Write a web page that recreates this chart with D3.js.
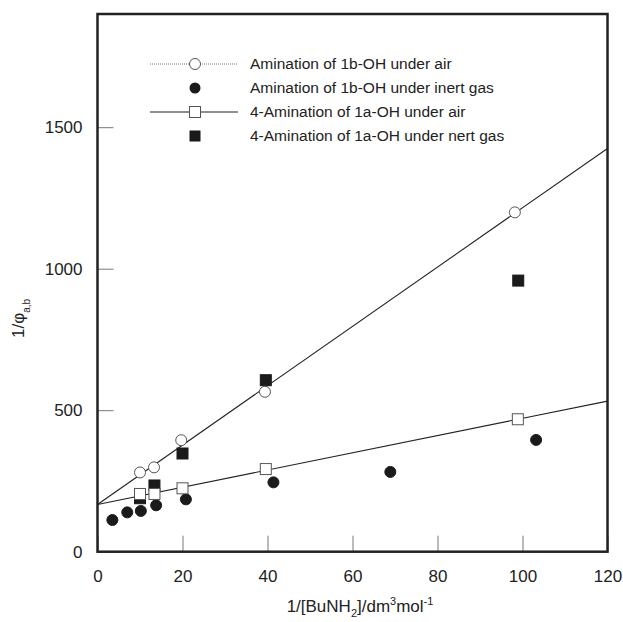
<!DOCTYPE html>
<html>
<head>
<meta charset="utf-8">
<script src="https://cdn.jsdelivr.net/npm/d3@7"></script>
<style>
  body { margin: 0; background: #fff; }
  text { font-family: Arial, "Liberation Sans", sans-serif; fill: #222; }
</style>
</head>
<body>
<div id="chart"></div>
<script>
// data
const xAir1b   = [10.0, 13.3, 19.7, 39.4, 98.2];
const yAir1b   = [280, 298, 394, 565, 1199];
const xInert1b = [3.5, 7.0, 10.2, 13.8, 20.8, 41.4, 68.9, 103.2];
const yInert1b = [112, 139, 144, 164, 185, 245, 282, 395];
const xAir1a   = [10.0, 13.4, 20.0, 39.6, 98.9];
const yAir1a   = [204, 204, 224, 292, 468];
const xInert1a = [10.0, 13.4, 20.0, 39.6, 99.0];
const yInert1a = [189, 234, 347, 606, 958];
// fitted lines (end points)
const fitAir1b = [[0, 167], [120, 1425]];
const fitAir1a = [[0, 167], [120, 532]];

const xTicks = [0, 20, 40, 60, 80, 100, 120];
const yTicks = [0, 500, 1000, 1500];
const legendLabels = [
  "Amination of 1b-OH under air",
  "Amination of 1b-OH under inert gas",
  "4-Amination of 1a-OH under air",
  "4-Amination of 1a-OH under nert gas"
];

const W = 623, H = 622;
const margin = {top: 14, right: 15.5, bottom: 70.3, left: 97.5};
const w = W - margin.left - margin.right;
const h = H - margin.top - margin.bottom;

const svg = d3.select("#chart").append("svg")
  .attr("width", W).attr("height", H);
const g = svg.append("g")
  .attr("transform", "translate(" + margin.left + "," + margin.top + ")");

const x = d3.scaleLinear().domain([0, 120]).range([0, w]);
const y = d3.scaleLinear().domain([0, 1900]).range([h, 0]);

// axes with inward ticks
const xAxis = g.append("g")
  .attr("transform", "translate(0," + h + ")")
  .call(d3.axisBottom(x).tickValues(xTicks).tickFormat(d3.format("d"))
    .tickSizeInner(-16).tickSizeOuter(0).tickPadding(18));
const yAxis = g.append("g")
  .call(d3.axisLeft(y).tickValues(yTicks).tickFormat(d3.format("d"))
    .tickSizeInner(-16).tickSizeOuter(0).tickPadding(15));
[xAxis, yAxis].forEach(a => {
  a.select(".domain").remove();
  a.selectAll(".tick line").attr("stroke", "#777").attr("stroke-width", 1);
  a.selectAll(".tick text").attr("font-size", 17).style("fill", "#222");
});

// frame
g.append("rect")
  .attr("x", 0).attr("y", 0).attr("width", w).attr("height", h)
  .attr("fill", "none").attr("stroke", "#222").attr("stroke-width", 2.5);

// fit lines
const line = d3.line().x(d => x(d[0])).y(d => y(d[1]));
[fitAir1b, fitAir1a].forEach(f => {
  g.append("path").datum(f).attr("d", line)
    .attr("fill", "none").attr("stroke", "#222").attr("stroke-width", 1.1);
});

const zip = (xs, ys) => xs.map((v, i) => [v, ys[i]]);
const r = 5.5, s = 11;

function circles(data, fill) {
  g.append("g").selectAll("circle").data(data).enter().append("circle")
    .attr("cx", d => x(d[0])).attr("cy", d => y(d[1])).attr("r", r)
    .attr("fill", fill).attr("stroke", fill === "#fff" ? "#555" : "#1a1a1a").attr("stroke-width", 1);
}
function squares(data, fill) {
  g.append("g").selectAll("rect").data(data).enter().append("rect")
    .attr("x", d => x(d[0]) - s / 2).attr("y", d => y(d[1]) - s / 2)
    .attr("width", s).attr("height", s)
    .attr("fill", fill).attr("stroke", fill === "#fff" ? "#555" : "#1a1a1a").attr("stroke-width", 1);
}
circles(zip(xInert1b, yInert1b), "#1a1a1a");
squares(zip(xInert1a, yInert1a), "#1a1a1a");
squares(zip(xAir1a, yAir1a), "#fff");
circles(zip(xAir1b, yAir1b), "#fff");

// legend
const lg = svg.append("g");
const rows = [64, 88, 112, 136];
const mx = 195;
lg.append("line").attr("x1", 150).attr("x2", 238).attr("y1", rows[0]).attr("y2", rows[0])
  .attr("stroke", "#777").attr("stroke-width", 1).attr("stroke-dasharray", "1,1");
lg.append("circle").attr("cx", mx).attr("cy", rows[0]).attr("r", r)
  .attr("fill", "#fff").attr("stroke", "#555");
lg.append("circle").attr("cx", mx).attr("cy", rows[1]).attr("r", r)
  .attr("fill", "#1a1a1a");
lg.append("line").attr("x1", 150).attr("x2", 238).attr("y1", rows[2]).attr("y2", rows[2])
  .attr("stroke", "#222").attr("stroke-width", 1.1);
lg.append("rect").attr("x", mx - s / 2).attr("y", rows[2] - s / 2).attr("width", s).attr("height", s)
  .attr("fill", "#fff").attr("stroke", "#555");
lg.append("rect").attr("x", mx - s / 2).attr("y", rows[3] - s / 2).attr("width", s).attr("height", s)
  .attr("fill", "#1a1a1a");
lg.selectAll("text.lab").data(legendLabels).enter().append("text")
  .attr("class", "lab")
  .attr("x", 250).attr("y", (d, i) => rows[i]).attr("dy", "0.35em")
  .attr("font-size", 15.5).text(d => d);

// x axis title
const xt = svg.append("text").attr("x", 360).attr("y", 612)
  .attr("text-anchor", "middle").attr("font-size", 17);
xt.append("tspan").text("1/[BuNH");
xt.append("tspan").attr("font-size", 11).attr("dy", 5).text("2");
xt.append("tspan").attr("dy", -5).text("]/dm");
xt.append("tspan").attr("font-size", 11).attr("dy", -7).text("3");
xt.append("tspan").attr("dy", 7).text("mol");
xt.append("tspan").attr("font-size", 11).attr("dy", -7).text("-1");

// y axis title
const yt = svg.append("text")
  .attr("transform", "translate(24,338) rotate(-90)")
  .attr("font-size", 17);
yt.append("tspan").text("1/\u03c6");
yt.append("tspan").attr("font-size", 10).attr("dy", 6).text("a,b");
</script>
</body>
</html>
